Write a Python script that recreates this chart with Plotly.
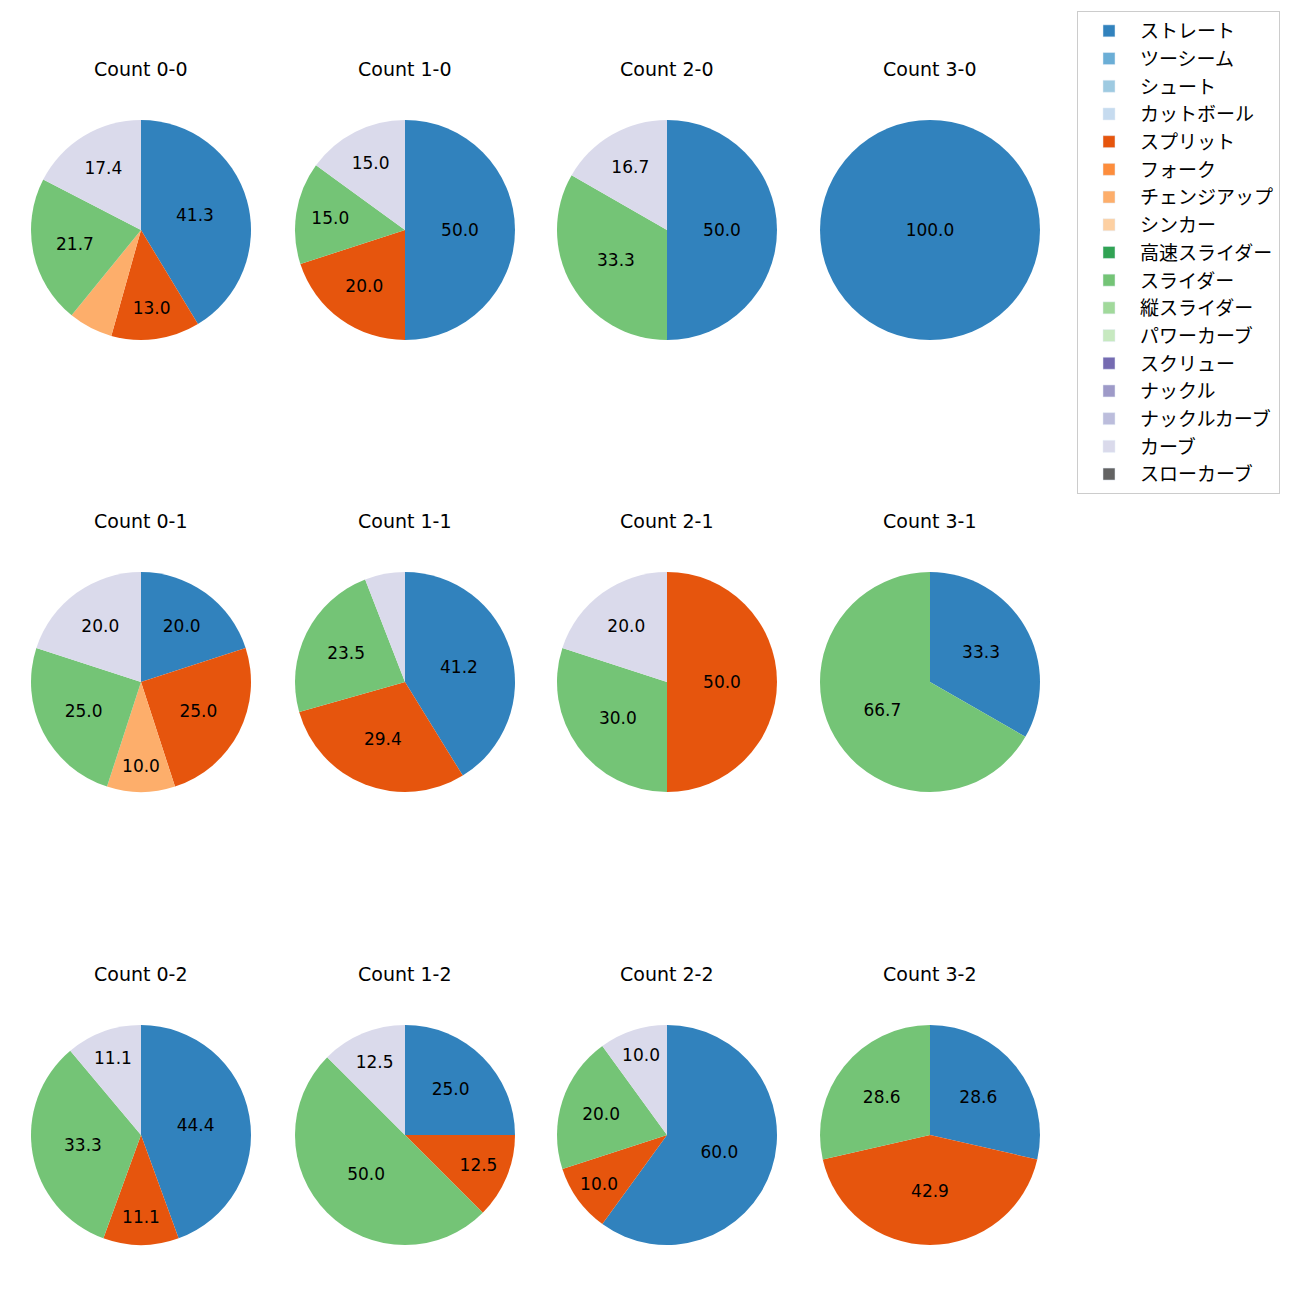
import plotly.graph_objects as go

pitch_types = ["ストレート", "ツーシーム", "シュート", "カットボール", "スプリット", "フォーク",
               "チェンジアップ", "シンカー", "高速スライダー", "スライダー", "縦スライダー",
               "パワーカーブ", "スクリュー", "ナックル", "ナックルカーブ", "カーブ", "スローカーブ"]
pitch_colors = ["#3182bd", "#6baed6", "#9ecae1", "#c6dbef", "#e6550d", "#fd8d3c",
                "#fdae6b", "#fdd0a2", "#31a354", "#74c476", "#a1d99b", "#c7e9c0",
                "#756bb1", "#9e9ac8", "#bcbddc", "#dadaeb", "#636363"]

counts = ["0-0", "1-0", "2-0", "3-0",
          "0-1", "1-1", "2-1", "3-1",
          "0-2", "1-2", "2-2", "3-2"]

# percentage share of each pitch type per count (only non-zero listed)
shares = {
    "0-0": {"ストレート": 41.3, "スプリット": 13.0, "チェンジアップ": 6.5, "スライダー": 21.7, "カーブ": 17.4},
    "1-0": {"ストレート": 50.0, "スプリット": 20.0, "スライダー": 15.0, "カーブ": 15.0},
    "2-0": {"ストレート": 50.0, "スライダー": 33.3, "カーブ": 16.7},
    "3-0": {"ストレート": 100.0},
    "0-1": {"ストレート": 20.0, "スプリット": 25.0, "チェンジアップ": 10.0, "スライダー": 25.0, "カーブ": 20.0},
    "1-1": {"ストレート": 41.2, "スプリット": 29.4, "スライダー": 23.5, "カーブ": 5.9},
    "2-1": {"スプリット": 50.0, "スライダー": 30.0, "カーブ": 20.0},
    "3-1": {"ストレート": 33.3, "スライダー": 66.7},
    "0-2": {"ストレート": 44.4, "スプリット": 11.1, "スライダー": 33.3, "カーブ": 11.1},
    "1-2": {"ストレート": 25.0, "スプリット": 12.5, "スライダー": 50.0, "カーブ": 12.5},
    "2-2": {"ストレート": 60.0, "スプリット": 10.0, "スライダー": 20.0, "カーブ": 10.0},
    "3-2": {"ストレート": 28.6, "スプリット": 42.9, "スライダー": 28.6},
}

W = H = 1300
OFF = 8  # page body margin compensation
col_cx = [141, 405, 667, 930]
row_cy = [230, 682, 1135]
R = 110
JFONT = "Noto Sans CJK JP"
LFONT = "DejaVu Sans"

fig = go.Figure()
annotations = []
for i, c in enumerate(counts):
    r, col = divmod(i, 4)
    cx, cy = col_cx[col] - OFF, row_cy[r] - OFF
    labs, vals, cols, txt = [], [], [], []
    for p, clr in zip(pitch_types, pitch_colors):
        v = shares[c].get(p, 0)
        if v > 0:
            labs.append(p); vals.append(v); cols.append(clr)
            txt.append(f"{v:.1f}" if v >= 10 else "")
    fig.add_trace(go.Pie(
        labels=labs, values=vals, text=txt, textinfo="text",
        textposition="inside", insidetextorientation="horizontal",
        textfont=dict(size=17, color="black", family=LFONT),
        marker=dict(colors=cols, line=dict(width=0)),
        sort=False, direction="clockwise", rotation=0,
        showlegend=False, hoverinfo="label+value",
        domain=dict(x=[(cx - R) / W, (cx + R) / W], y=[1 - (cy + R) / H, 1 - (cy - R) / H]),
    ))
    annotations.append(dict(text=f"Count {c}", x=cx / W, y=1 - (cy - 161) / H,
                            xref="paper", yref="paper", showarrow=False,
                            xanchor="center", yanchor="middle",
                            font=dict(size=19, color="black", family=LFONT)))

# legend entries
for p, clr in zip(pitch_types, pitch_colors):
    fig.add_trace(go.Bar(x=[None], y=[None], name=p, marker=dict(color=clr),
                         legendgroup=p, showlegend=True, hoverinfo="skip"))

fig.update_layout(
    width=W, height=H, margin=dict(l=0, r=0, t=0, b=0),
    paper_bgcolor="white", plot_bgcolor="white",
    xaxis=dict(visible=False, domain=[0.99, 1.0]), yaxis=dict(visible=False, domain=[0.99, 1.0]),
    annotations=annotations,
    font=dict(family=JFONT, color="black"),
    legend=dict(x=(1077 - OFF) / W, y=1 - (11 - OFF) / H, xanchor="left", yanchor="top",
                bordercolor="#cccccc", borderwidth=1, bgcolor="white",
                font=dict(size=19, family=JFONT), traceorder="grouped",
                tracegroupgap=0, itemwidth=52),
)

fig.write_html("out.html")
